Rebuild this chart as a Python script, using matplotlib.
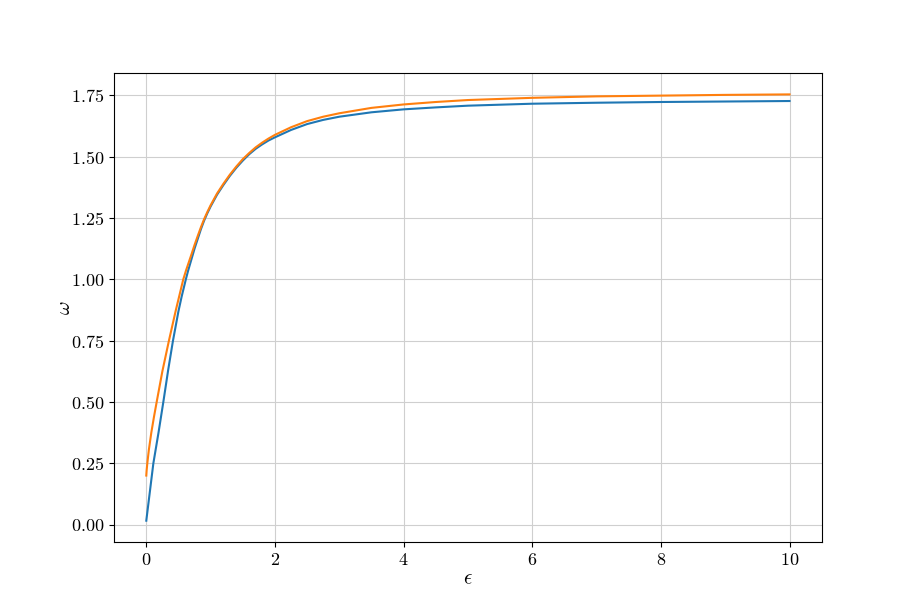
import numpy as np
import matplotlib
matplotlib.use("Agg")
import matplotlib.pyplot as plt

plt.rcParams['font.family'] = 'serif'
plt.rcParams['font.serif'] = ['cmr10']
plt.rcParams['mathtext.fontset'] = 'cm'
plt.rcParams['axes.formatter.use_mathtext'] = True
plt.rcParams['font.size'] = 12

# curve 1 (blue)
eps_1 = [0, 0.11, 0.19, 0.265, 0.34, 0.415, 0.5, 0.55, 0.615, 0.65, 0.7, 0.75,
         0.8, 0.85, 0.9, 0.95, 1.0, 1.1, 1.2, 1.3, 1.4, 1.5, 1.6, 1.7, 1.8, 1.9,
         2.0, 2.25, 2.5, 2.75, 3, 3.5, 4, 4.5, 5, 6, 7, 8, 9, 10]
omega_1 = [0.016, 0.25, 0.375, 0.5, 0.63, 0.75, 0.87, 0.93, 1.0, 1.035, 1.08, 1.125,
           1.165, 1.205, 1.24, 1.27, 1.297, 1.345, 1.385, 1.422, 1.455, 1.484, 1.51,
           1.532, 1.55, 1.566, 1.579, 1.609, 1.633, 1.65, 1.663, 1.681, 1.693,
           1.701, 1.708, 1.716, 1.720, 1.723, 1.725, 1.727]

# curve 2 (orange)
eps_2 = [0, 0.005, 0.016, 0.04, 0.078, 0.12, 0.165, 0.25, 0.352, 0.46, 0.52,
         0.575, 0.62, 0.7, 0.75, 0.8, 0.85, 0.9, 0.95, 1.0, 1.1, 1.2, 1.3, 1.4,
         1.5, 1.6, 1.7, 1.8, 1.9, 2.0, 2.25, 2.5, 2.75, 3, 3.5, 4, 4.5, 5, 6, 7,
         8, 9, 10]
omega_2 = [0.20, 0.22, 0.25, 0.305, 0.375, 0.44, 0.505, 0.625, 0.75, 0.875, 0.94,
           1.0, 1.038, 1.10, 1.14, 1.177, 1.213, 1.246, 1.275, 1.302, 1.35, 1.39,
           1.427, 1.46, 1.49, 1.515, 1.538, 1.557, 1.574, 1.589, 1.62, 1.645,
           1.663, 1.677, 1.699, 1.713, 1.723, 1.731, 1.740, 1.746, 1.749, 1.752,
           1.754]

fig, ax = plt.subplots(figsize=(9.13, 6.09), dpi=100)
ax.plot(eps_1, omega_1)
ax.plot(eps_2, omega_2)
ax.grid(True, color='#cfcfcf', linewidth=0.8)
ax.set_xlabel(r'$\epsilon$', fontsize=15, labelpad=2)
ax.set_ylabel(r'$\omega$', fontsize=15, labelpad=-2)
ax.set_yticks(np.arange(0, 1.76, 0.25))
ax.tick_params(labelsize=13)

fig.savefig('out.png')
